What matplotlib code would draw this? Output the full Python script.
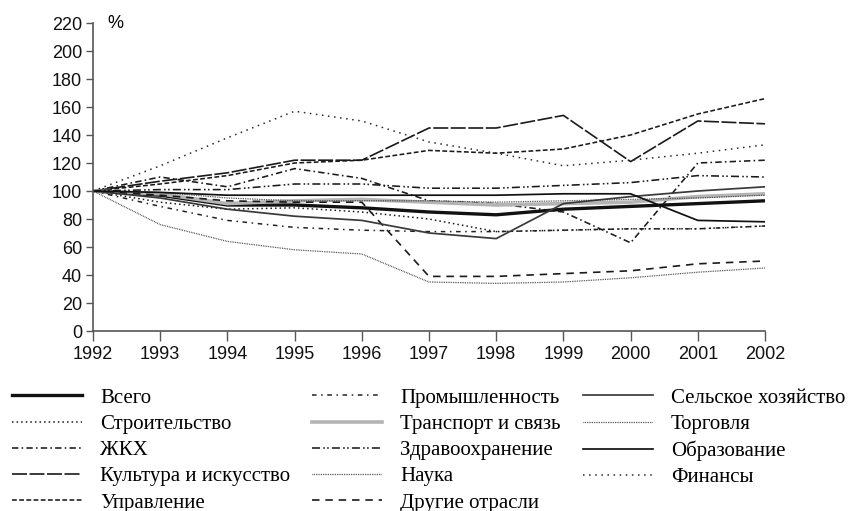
import matplotlib
matplotlib.use("Agg")
import matplotlib.pyplot as plt

years = [1992, 1993, 1994, 1995, 1996, 1997, 1998, 1999, 2000, 2001, 2002]

vsego    = [100, 97, 90, 90, 88, 85, 83, 87, 89, 91, 93]
stroit   = [100, 92, 87, 88, 85, 80, 71, 72, 73, 73, 75]
zhkh     = [100, 110, 103, 116, 109, 93, 91, 85, 63, 120, 122]
kultura  = [100, 107, 113, 122, 122, 145, 145, 154, 121, 150, 148]
uprav    = [100, 105, 111, 120, 122, 129, 127, 130, 140, 155, 166]
prom     = [100, 89, 79, 74, 72, 71, 71, 72, 73, 73, 75]
transp   = [100, 98, 91, 93, 94, 92, 90, 91, 92, 96, 98]
zdrav    = [100, 101, 101, 105, 105, 102, 102, 104, 106, 111, 110]
nauka    = [100, 76, 64, 58, 55, 35, 34, 35, 38, 42, 45]
drugie   = [100, 97, 93, 92, 92, 39, 39, 41, 43, 48, 50]
selsk    = [100, 95, 87, 82, 79, 70, 66, 91, 96, 100, 103]
torg     = [100, 99, 95, 93, 93, 93, 92, 93, 94, 95, 97]
obraz    = [100, 99, 97, 97, 97, 97, 97, 98, 98, 79, 78]
finansy  = [100, 118, 138, 157, 150, 135, 127, 118, 122, 127, 133]

labels = ["Всего", "Строительство", "ЖКХ", "Культура и искусство", "Управление",
          "Промышленность", "Транспорт и связь", "Здравоохранение", "Наука", "Другие отрасли",
          "Сельское хозяйство", "Торговля", "Образование", "Финансы"]
series = [vsego, stroit, zhkh, kultura, uprav, prom, transp, zdrav, nauka, drugie,
          selsk, torg, obraz, finansy]
styles = [
    dict(color="#111111", lw=2.4, ls="-"),
    dict(color="#1a1a1a", lw=1.1, ls=(0, (1, 2))),
    dict(color="#1a1a1a", lw=1.15, ls=(0, (4, 2, 1, 2))),
    dict(color="#1a1a1a", lw=1.2, ls=(0, (9, 1.5))),
    dict(color="#1a1a1a", lw=1.15, ls=(0, (3, 1.5))),
    dict(color="#222222", lw=1.1, ls=(0, (3, 3, 1, 3))),
    dict(color="#b4b4b4", lw=2.6, ls="-"),
    dict(color="#1a1a1a", lw=1.15, ls=(0, (5, 2, 1, 1.5, 1, 2))),
    dict(color="#2a2a2a", lw=0.9, ls=(0, (0.6, 0.8))),
    dict(color="#1a1a1a", lw=1.2, ls=(0, (4.5, 3.5))),
    dict(color="#3a3a3a", lw=1.25, ls="-"),
    dict(color="#2a2a2a", lw=0.9, ls=(0, (0.6, 0.8))),
    dict(color="#111111", lw=1.25, ls="-"),
    dict(color="#2a2a2a", lw=1.1, ls=(0, (1, 3))),
]

fig = plt.figure(figsize=(8.61, 5.11), dpi=100)
ax = fig.add_axes([93/861, 1 - 331/511, 672/861, 308/511])

handles = []
for y, lab, st in zip(series, labels, styles):
    h, = ax.plot(years, y, label=lab, **st)
    handles.append(h)

ax.set_xlim(1992, 2002)
ax.set_ylim(0, 220)
ax.set_xticks(years)
ax.set_yticks(range(0, 221, 20))
for s in ["top", "right"]:
    ax.spines[s].set_visible(False)
for s in ["left", "bottom"]:
    ax.spines[s].set_color("#555555")
    ax.spines[s].set_linewidth(1.2)
ax.tick_params(axis="both", colors="#555555", labelcolor="#111111", labelsize=13,
               width=1.0)
ax.tick_params(axis="x", length=7, pad=4)
ax.tick_params(axis="y", length=5, pad=3)
for t in ax.get_xticklabels() + ax.get_yticklabels():
    t.set_fontfamily("Liberation Sans")
ax.text(0.022, 1.0, "%", transform=ax.transAxes, fontsize=13,
        fontfamily="Liberation Sans", va="center", ha="left")

col_x = [12/861, 312/861, 583/861]
groups = [handles[0:5], handles[5:10], handles[10:14]]
fsz = 15
for gx, grp in zip(col_x, groups):
    lg = fig.legend(handles=grp, loc="upper left", bbox_to_anchor=(gx, 1 - 388/511),
                    ncol=1, frameon=False, prop=dict(family="Liberation Serif", size=fsz),
                    handlelength=70/(fsz*100/72), handletextpad=18/(fsz*100/72),
                    labelspacing=0.32, borderaxespad=0, borderpad=0)

fig.savefig("out.png", dpi=100)
